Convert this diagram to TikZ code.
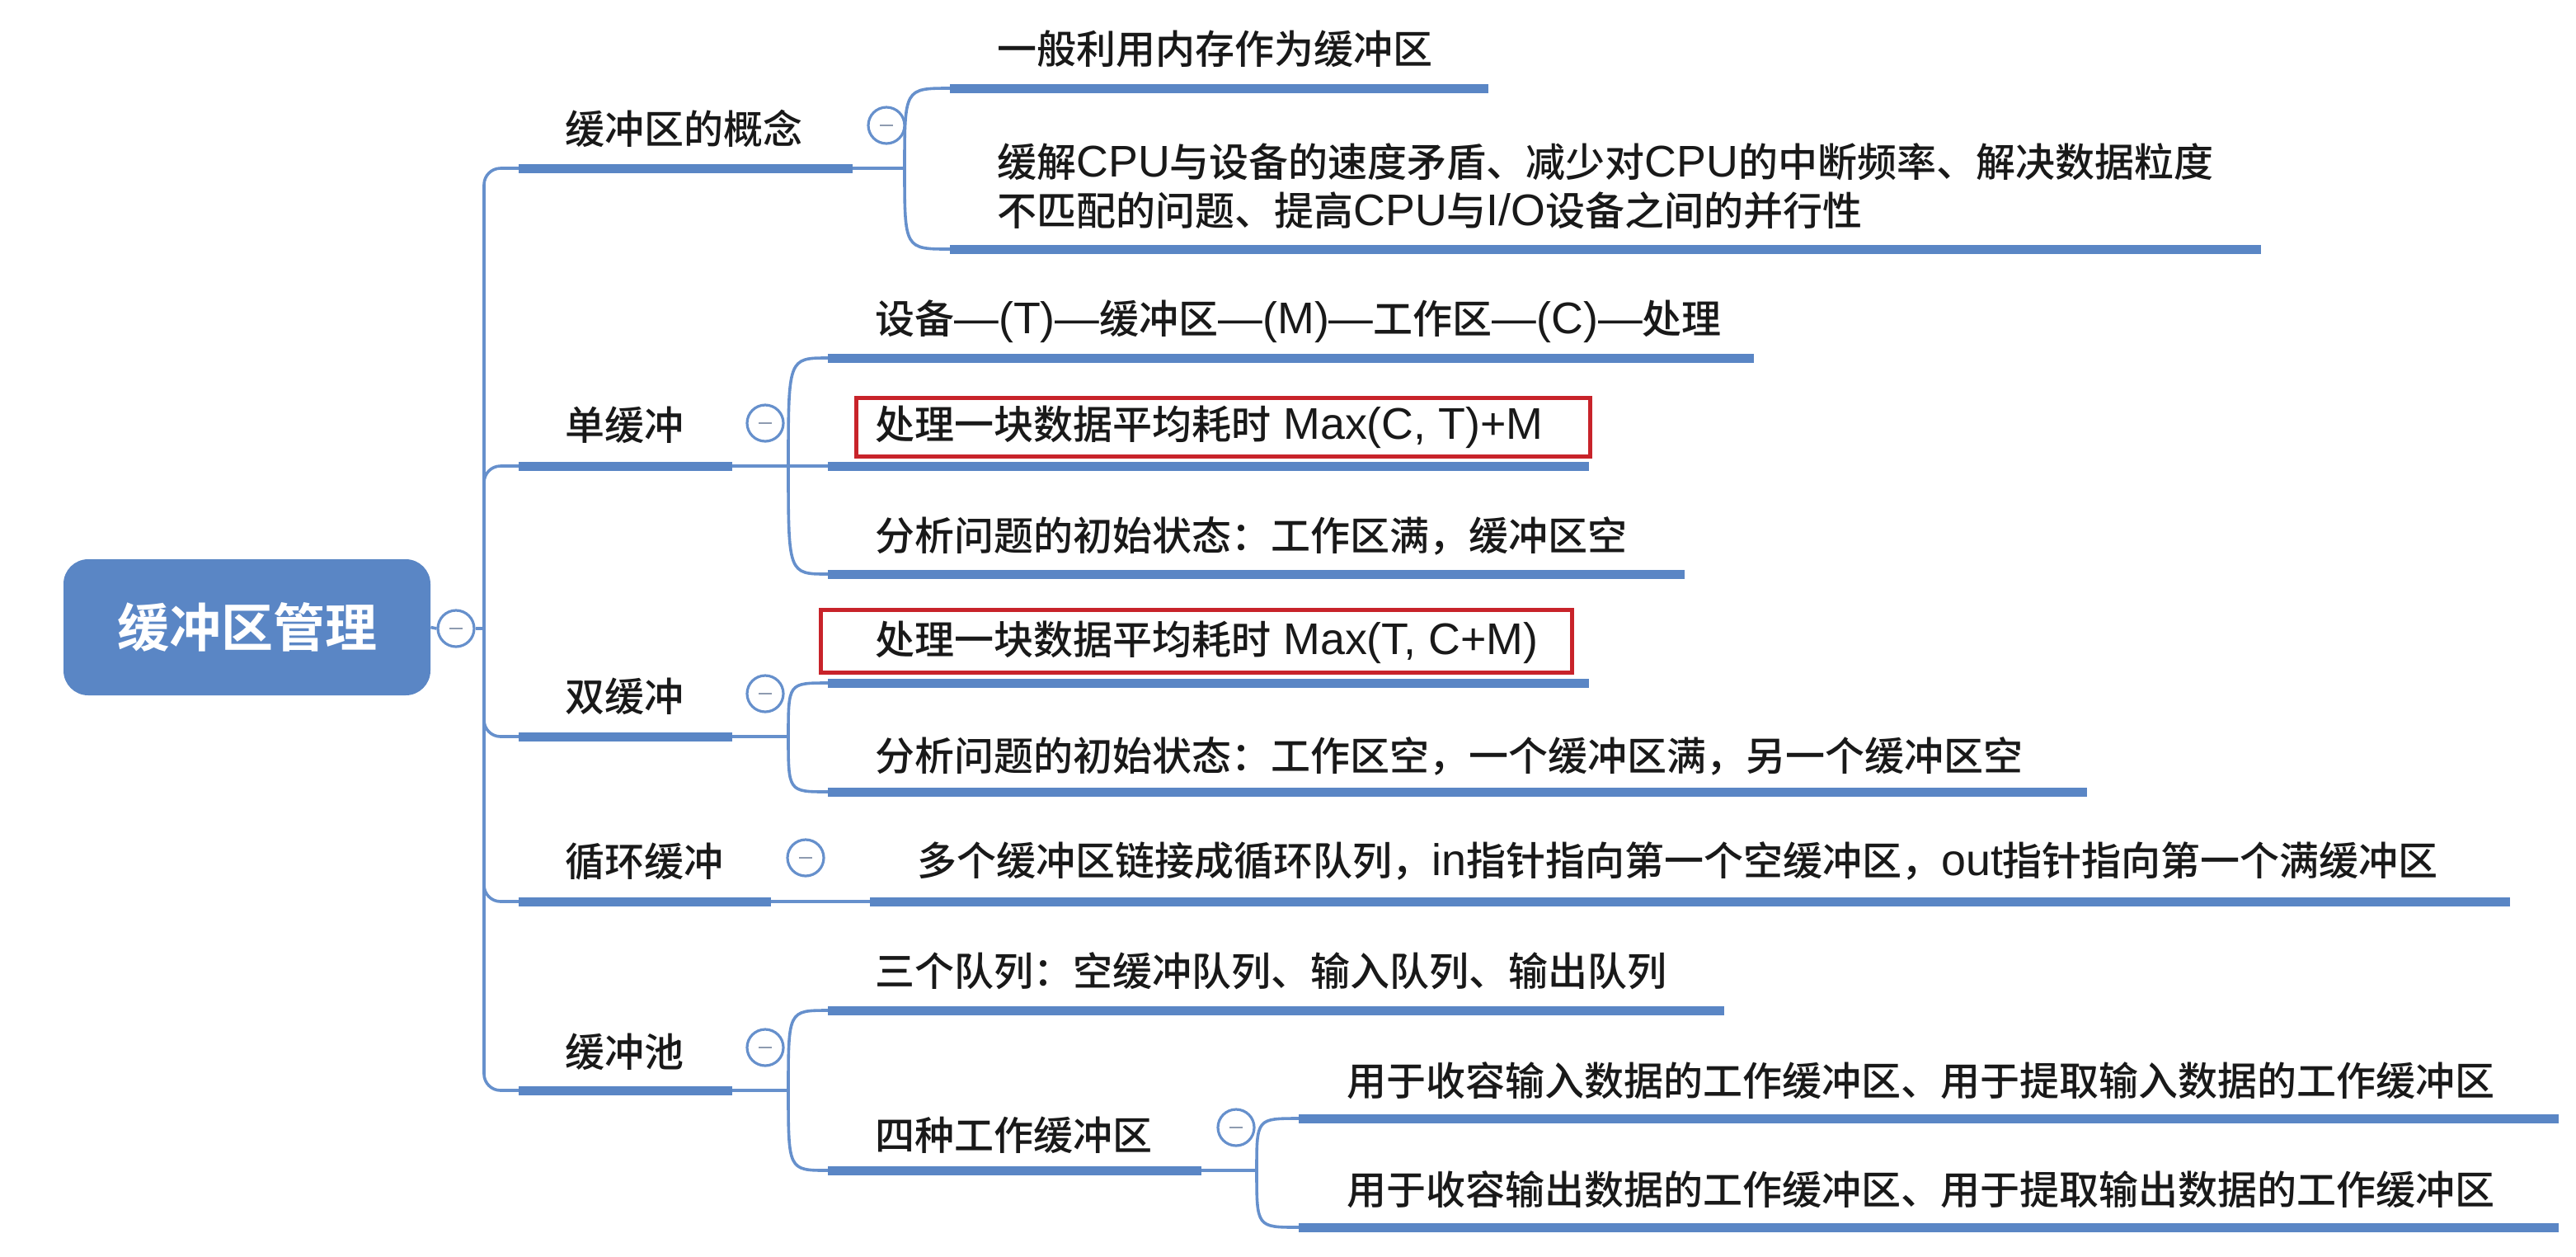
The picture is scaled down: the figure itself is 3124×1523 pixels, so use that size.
\documentclass[tikz,border=0pt]{standalone}
\usepackage{fontspec}
\setmainfont{Noto Sans CJK SC}[UprightFont=* Medium, BoldFont=* Bold]
\newfontfamily\latfont{Liberation Sans}[Scale=1.12]
\newcommand{\latr}[1]{{\latfont #1}}
\definecolor{mblue}{HTML}{5A86C5}
\definecolor{lblue}{HTML}{6690CC}
\definecolor{mred}{HTML}{C8232A}
\definecolor{mgray}{HTML}{8E9BB0}
\tikzset{
  bar/.style={draw=mblue, line width=5.5pt},
  thin/.style={draw=lblue, line width=1.8pt},
  lab/.style={anchor=west, inner sep=0pt, font=\fontsize{24}{29.5}\selectfont, text=black!90},
  fold/.style={circle, draw=lblue, fill=white, line width=1.6pt, minimum size=22pt, inner sep=0pt},
  redbox/.style={draw=mred, line width=2.5pt},
  rootbox/.style={rounded corners=15pt, fill=mblue, text=white, minimum width=222.5pt, minimum height=82.5pt, inner sep=0pt, font=\fontsize{31.5}{36}\selectfont\bfseries}
}
\newcommand{\foldmark}{{\color{mgray}\rule[-0.7pt]{8pt}{1.4pt}}}
\begin{document}
\begin{tikzpicture}[x=0.5pt,y=-0.5pt]
\useasboundingbox (0,0) rectangle (3124,1523);

% root
\node[rootbox] (root) at (299.5,760.5) {缓冲区管理};
\node[fold] (f0) at (553,762) {\foldmark};
\coordinate (T) at (587,762);
\draw[thin] (root.east) -- (f0.west);
\draw[thin] (f0.east) -- (T);

% level-1 coordinates
\coordinate (b1s) at (629,204);  \coordinate (b1e) at (1034,204); \coordinate (h1) at (1097,204);
\coordinate (b2s) at (629,565);  \coordinate (b2e) at (888,565);  \coordinate (h2) at (956,565);
\coordinate (b3s) at (629,893);  \coordinate (b3e) at (888,893);  \coordinate (h3) at (956,893);
\coordinate (b4s) at (629,1093); \coordinate (b4e) at (935,1093);
\coordinate (b5s) at (629,1322); \coordinate (b5e) at (888,1322); \coordinate (h5) at (956,1322);

\foreach \b in {b1s,b2s,b3s,b4s,b5s}
  \draw[thin, rounded corners=10pt] (T) |- (\b);
\foreach \b in {1,2,3,4,5}
  \draw[bar] (b\b s) -- (b\b e);

\node[lab] (t1) at (685,156) {缓冲区的概念};
\node[lab] (t2) at (685,515) {单缓冲};
\node[lab] (t3) at (685,844) {双缓冲};
\node[lab] (t4) at (685,1044) {循环缓冲};
\node[lab] (t5) at (685,1275) {缓冲池};

\node[fold] (f1) at (1075,152) {\foldmark};
\node[fold] (f2) at (928,513) {\foldmark};
\node[fold] (f3) at (928,841) {\foldmark};
\node[fold] (f4) at (977,1040) {\foldmark};
\node[fold] (f5) at (928,1270) {\foldmark};

% children of 缓冲区的概念
\coordinate (c11s) at (1152,107); \coordinate (c11e) at (1805,107);
\coordinate (c12s) at (1152,302); \coordinate (c12e) at (2742,302);
\draw[thin] (b1e) -- (h1);
\draw[thin] (h1) .. controls (h1 |- c11s) .. (c11s);
\draw[thin] (h1) .. controls (h1 |- c12s) .. (c12s);
\draw[bar] (c11s) -- (c11e);
\draw[bar] (c12s) -- (c12e);
\node[lab] (t11) at (1209,59) {一般利用内存作为缓冲区};
\node[lab, align=left] (t12) at (1209,225.5) {缓解\latr{CPU}与设备的速度矛盾、减少对\latr{CPU}的中断频率、解决数据粒度\\不匹配的问题、提高\latr{CPU}与\latr{I/O}设备之间的并行性};

% children of 单缓冲
\coordinate (c21s) at (1004,434); \coordinate (c21e) at (2127,434);
\coordinate (c22s) at (1004,565); \coordinate (c22e) at (1927,565);
\coordinate (c23s) at (1004,696); \coordinate (c23e) at (2043,696);
\draw[thin] (b2e) -- (c22s);
\draw[thin] (h2) .. controls (h2 |- c21s) .. (c21s);
\draw[thin] (h2) .. controls (h2 |- c23s) .. (c23s);
\draw[bar] (c21s) -- (c21e);
\draw[bar] (c22s) -- (c22e);
\draw[bar] (c23s) -- (c23e);
\node[lab] (t21) at (1061,390) {设备\latr{—(T)—}缓冲区\latr{—(M)—}工作区\latr{—(C)—}处理};
\draw[redbox] (1038,482) rectangle (1928,553);
\node[lab] (t22) at (1061,518) {处理一块数据平均耗时\latr{ Max(C, T)+M}};
\node[lab] (t23) at (1061,650) {分析问题的初始状态：工作区满，缓冲区空};

% children of 双缓冲
\coordinate (c31s) at (1004,828); \coordinate (c31e) at (1927,828);
\coordinate (c32s) at (1004,960); \coordinate (c32e) at (2531,960);
\draw[thin] (b3e) -- (h3);
\draw[thin] (h3) .. controls (h3 |- c31s) .. (c31s);
\draw[thin] (h3) .. controls (h3 |- c32s) .. (c32s);
\draw[bar] (c31s) -- (c31e);
\draw[bar] (c32s) -- (c32e);
\draw[redbox] (995,739) rectangle (1906,815);
\node[lab] (t31) at (1061,779) {处理一块数据平均耗时\latr{ Max(T, C+M)}};
\node[lab] (t32) at (1061,917) {分析问题的初始状态：工作区空，一个缓冲区满，另一个缓冲区空};

% child of 循环缓冲
\coordinate (c41s) at (1055,1093); \coordinate (c41e) at (3044,1093);
\draw[thin] (b4e) -- (c41s);
\draw[bar] (c41s) -- (c41e);
\node[lab] (t41) at (1112,1044) {多个缓冲区链接成循环队列，\latr{in}指针指向第一个空缓冲区，\latr{out}指针指向第一个满缓冲区};

% children of 缓冲池
\coordinate (c51s) at (1004,1225); \coordinate (c51e) at (2091,1225);
\coordinate (c52s) at (1004,1419); \coordinate (c52e) at (1457,1419); \coordinate (h52) at (1524,1419);
\draw[thin] (b5e) -- (h5);
\draw[thin] (h5) .. controls (h5 |- c51s) .. (c51s);
\draw[thin] (h5) .. controls (h5 |- c52s) .. (c52s);
\draw[bar] (c51s) -- (c51e);
\draw[bar] (c52s) -- (c52e);
\node[lab] (t51) at (1061,1177) {三个队列：空缓冲队列、输入队列、输出队列};
\node[lab] (t52) at (1061,1376) {四种工作缓冲区};
\node[fold] (f52) at (1499,1367) {\foldmark};

% children of 四种工作缓冲区
\coordinate (g1s) at (1575,1356); \coordinate (g1e) at (3103,1356);
\coordinate (g2s) at (1575,1488); \coordinate (g2e) at (3103,1488);
\draw[thin] (c52e) -- (h52);
\draw[thin] (h52) .. controls (h52 |- g1s) .. (g1s);
\draw[thin] (h52) .. controls (h52 |- g2s) .. (g2s);
\draw[bar] (g1s) -- (g1e);
\draw[bar] (g2s) -- (g2e);
\node[lab] (tg1) at (1633,1310) {用于收容输入数据的工作缓冲区、用于提取输入数据的工作缓冲区};
\node[lab] (tg2) at (1633,1442) {用于收容输出数据的工作缓冲区、用于提取输出数据的工作缓冲区};
\end{tikzpicture}
\end{document}
